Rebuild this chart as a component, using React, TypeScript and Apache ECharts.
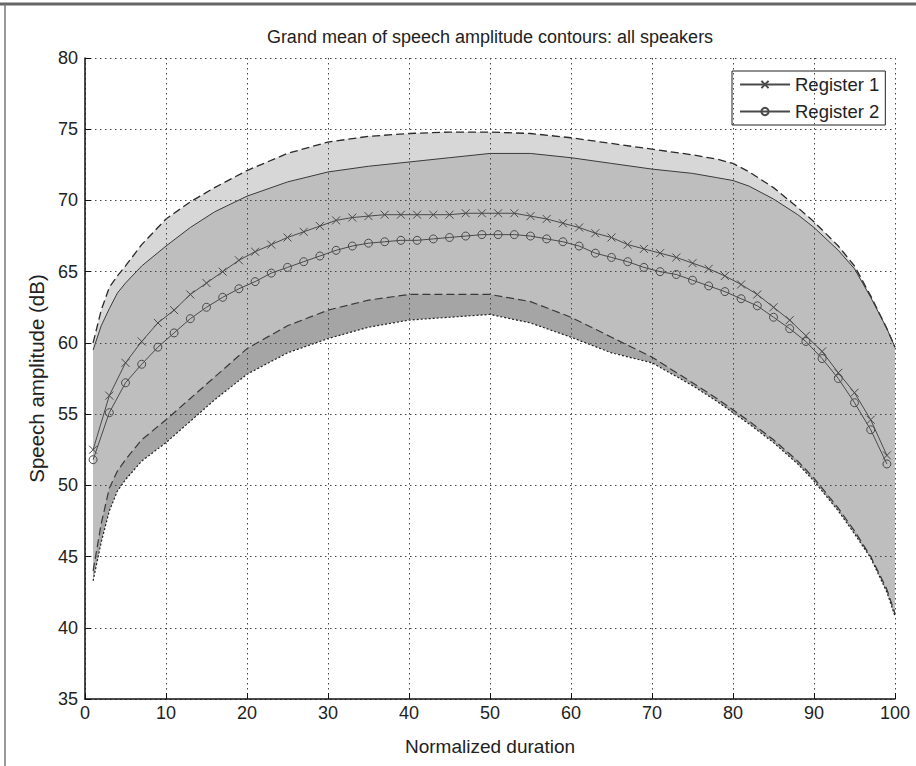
import React, { useEffect, useRef } from "react";
import * as echarts from "echarts";

const TITLE = "Grand mean of speech amplitude contours: all speakers";
const X_NAME = "Normalized duration";
const Y_NAME = "Speech amplitude (dB)";
const NAME_R1 = "Register 1";
const NAME_R2 = "Register 2";

const X_TICK_MIN = 0;
const X_TICK_MAX = 100;
const X_TICK_STEP = 10;
const Y_TICK_MIN = 35;
const Y_TICK_MAX = 80;
const Y_TICK_STEP = 5;

// x positions of the mean contours (markers)
const MEAN_X = [
  1, 3, 5, 7, 9, 11, 13, 15, 17, 19, 21, 23, 25, 27, 29, 31, 33, 35, 37, 39, 41, 43, 45, 47, 49,
  51, 53, 55, 57, 59, 61, 63, 65, 67, 69, 71, 73, 75, 77, 79, 81, 83, 85, 87, 89, 91, 93, 95, 97, 99,
];
const REGISTER_1 = [
  52.5, 56.3, 58.6, 60.1, 61.4, 62.3, 63.4, 64.2, 65.0, 65.8, 66.4, 66.9, 67.4, 67.8, 68.2, 68.6, 68.8, 68.9, 69.0, 69.0,
  69.0, 69.0, 69.0, 69.1, 69.1, 69.1, 69.1, 68.9, 68.7, 68.4, 68.1, 67.7, 67.4, 66.9, 66.6, 66.3, 66.0, 65.6, 65.2, 64.7,
  64.1, 63.4, 62.5, 61.6, 60.5, 59.4, 57.9, 56.5, 54.6, 52.1,
];
const REGISTER_2 = [
  51.8, 55.1, 57.2, 58.5, 59.7, 60.7, 61.7, 62.5, 63.2, 63.8, 64.3, 64.9, 65.3, 65.7, 66.1, 66.5, 66.8, 67.0, 67.1, 67.2,
  67.2, 67.3, 67.4, 67.5, 67.6, 67.6, 67.6, 67.5, 67.3, 67.1, 66.8, 66.3, 66.0, 65.7, 65.3, 65.0, 64.8, 64.4, 64.0, 63.6,
  63.1, 62.6, 61.8, 61.0, 60.1, 58.9, 57.5, 55.8, 53.9, 51.5,
];

// x positions of the spread bands
const BAND_X = [
  1, 2, 3, 4, 5, 7, 10, 13, 16, 20, 25, 30, 35, 40, 45, 50, 55, 60, 65, 70, 75, 78, 80, 82, 85, 88, 90, 93, 95, 97, 99, 100,
];
// Register 1 band (dashed edges)
const R1_UPPER = [
  60.0, 62.3, 63.9, 64.7, 65.4, 66.9, 68.7, 69.9, 70.9, 72.1, 73.3, 74.1, 74.5, 74.7, 74.8, 74.8, 74.7, 74.4, 74.0, 73.6,
  73.2, 72.9, 72.6, 72.0, 70.9, 69.5, 68.5, 66.8, 65.4, 63.3, 61.0, 59.7,
];
const R1_LOWER = [
  44.0, 47.3, 49.8, 51.0, 51.8, 53.2, 54.6, 56.1, 57.6, 59.6, 61.2, 62.3, 63.0, 63.4, 63.4, 63.4, 62.9, 61.8, 60.4, 59.0,
  57.2, 56.1, 55.3, 54.5, 53.2, 51.7, 50.5, 48.4, 46.8, 45.0, 42.7, 41.0,
];
// Register 2 band (solid / dotted edges)
const R2_UPPER = [
  59.5, 61.2, 62.4, 63.5, 64.2, 65.4, 66.8, 68.1, 69.2, 70.3, 71.3, 72.0, 72.4, 72.7, 73.0, 73.3, 73.3, 73.0, 72.6, 72.2,
  71.9, 71.6, 71.4, 71.0, 70.1, 69.0, 68.1, 66.5, 65.2, 63.2, 61.0, 59.7,
];
const R2_LOWER = [
  43.3, 46.0, 48.2, 49.6, 50.4, 51.7, 53.0, 54.5, 56.0, 57.8, 59.3, 60.3, 61.1, 61.6, 61.8, 62.0, 61.4, 60.4, 59.3, 58.6,
  57.0, 55.9, 55.1, 54.3, 53.0, 51.5, 50.3, 48.2, 46.6, 44.9, 42.5, 40.8,
];

const FONT = "'Liberation Sans', Arial, Helvetica, sans-serif";
const TEXT_COLOR = "#222";
const LINE_COLOR = "#4a4a4a";
const X_MARK = "path://M0,0L10,10M10,0L0,10";

function bandPolygon(name: string, lo: number[], hi: number[], fill: string, z: number) {
  return {
    type: "custom",
    name,
    z,
    silent: true,
    clip: true,
    data: BAND_X.map((x, i) => [x, lo[i], hi[i]]),
    encode: { x: 0, y: [1, 2] },
    renderItem: (params: any, api: any) => {
      if (params.dataIndex !== 0) return null;
      const pts: number[][] = [];
      for (let i = 0; i < BAND_X.length; i++) pts.push(api.coord([BAND_X[i], hi[i]]));
      for (let i = BAND_X.length - 1; i >= 0; i--) pts.push(api.coord([BAND_X[i], lo[i]]));
      return { type: "polygon", shape: { points: pts }, style: { fill, stroke: "none" } };
    },
  };
}

function edgeLine(name: string, values: number[], color: string, width: number, type: any) {
  return {
    type: "line",
    name,
    z: 3,
    silent: true,
    showSymbol: false,
    symbol: "none",
    data: BAND_X.map((x, i) => [x, values[i]]),
    lineStyle: { color, width, type },
  };
}

export default function App() {
  const ref = useRef<HTMLDivElement>(null);

  useEffect(() => {
    document.body.style.margin = "0";
    if (!ref.current) return;
    const chart = echarts.init(ref.current, undefined, { renderer: "svg" });

    const option: any = {
      animation: false,
      backgroundColor: "#fff",
      textStyle: { fontFamily: FONT },
      grid: { left: 85, right: 21, top: 58, bottom: 67, containLabel: false },
      legend: {
        orient: "vertical",
        left: 732,
        top: 71,
        data: [NAME_R1, NAME_R2],
        itemWidth: 50,
        itemHeight: 9,
        itemGap: 8,
        padding: [4, 6, 4, 7],
        borderColor: "#222",
        borderWidth: 1,
        backgroundColor: "#fff",
        textStyle: { fontFamily: FONT, fontSize: 18.5, color: TEXT_COLOR, lineHeight: 18 },
      },
      xAxis: {
        type: "value",
        min: X_TICK_MIN,
        max: X_TICK_MAX,
        interval: X_TICK_STEP,
        z: 10,
        name: X_NAME,
        nameLocation: "middle",
        nameGap: 38,
        nameTextStyle: { fontFamily: FONT, fontSize: 19, color: TEXT_COLOR },
        axisLine: { show: true, onZero: false, lineStyle: { color: "#111", width: 1.5 } },
        axisTick: { show: true, inside: true, length: 6, lineStyle: { color: "#111" } },
        axisLabel: { margin: 5, fontFamily: FONT, fontSize: 18, color: TEXT_COLOR },
        splitLine: { show: true, lineStyle: { color: "#444", width: 1, type: [1.5, 3.5] } },
      },
      yAxis: {
        type: "value",
        min: Y_TICK_MIN,
        max: Y_TICK_MAX,
        interval: Y_TICK_STEP,
        z: 10,
        name: Y_NAME,
        nameLocation: "middle",
        nameGap: 38,
        nameTextStyle: { fontFamily: FONT, fontSize: 20.5, color: TEXT_COLOR },
        axisLine: { show: true, onZero: false, lineStyle: { color: "#111", width: 1.5 } },
        axisTick: { show: true, inside: true, length: 6, lineStyle: { color: "#111" } },
        axisLabel: { margin: 7, fontFamily: FONT, fontSize: 18, color: TEXT_COLOR },
        splitLine: { show: true, lineStyle: { color: "#444", width: 1, type: [1.5, 3.5] } },
      },
      graphic: [
        {
          type: "text",
          x: 490,
          y: 37,
          style: {
            text: TITLE,
            font: `18px ${FONT}`,
            fill: TEXT_COLOR,
            textAlign: "center",
            textVerticalAlign: "middle",
          },
        },
        { type: "line", shape: { x1: 0, y1: 4, x2: 916, y2: 4 }, style: { stroke: "#666", lineWidth: 3 } },
        { type: "line", shape: { x1: 5, y1: 4, x2: 5, y2: 766 }, style: { stroke: "#777", lineWidth: 1.5 } },
      ],
      series: [
        bandPolygon("band2", R2_LOWER, R2_UPPER, "#a5a5a5", 1),
        bandPolygon("band1", R1_LOWER, R1_UPPER, "rgba(200,200,200,0.72)", 2),
        edgeLine("r1u", R1_UPPER, "#2a2a2a", 1.3, [8, 4]),
        edgeLine("r1l", R1_LOWER, "#3a3a3a", 1.2, [8, 4]),
        edgeLine("r2u", R2_UPPER, "#3a3a3a", 1, "solid"),
        edgeLine("r2l", R2_LOWER, "#222", 1.2, [2, 2]),
        {
          type: "line",
          name: NAME_R1,
          z: 5,
          data: MEAN_X.map((x, i) => [x, REGISTER_1[i]]),
          symbol: X_MARK,
          symbolSize: 8,
          showSymbol: true,
          lineStyle: { color: LINE_COLOR, width: 1 },
          itemStyle: { color: "transparent", borderColor: LINE_COLOR, borderWidth: 1 },
        },
        {
          type: "line",
          name: NAME_R2,
          z: 5,
          data: MEAN_X.map((x, i) => [x, REGISTER_2[i]]),
          symbol: "circle",
          symbolSize: 8,
          showSymbol: true,
          lineStyle: { color: LINE_COLOR, width: 1 },
          itemStyle: { color: "transparent", borderColor: LINE_COLOR, borderWidth: 1 },
        },
      ],
    };

    chart.setOption(option);
    return () => chart.dispose();
  }, []);

  return <div ref={ref} style={{ width: 916, height: 766 }} />;
}
